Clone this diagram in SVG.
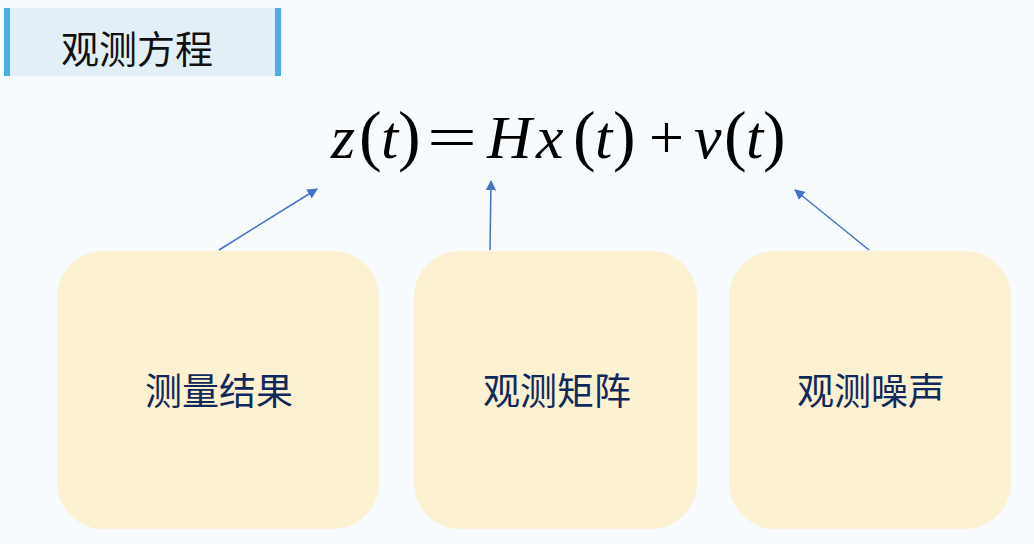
<svg xmlns="http://www.w3.org/2000/svg" width="1034" height="544" viewBox="0 0 1034 544">
<defs>
<style>
.box{fill:#fcf1d1;}
.lbl{font-family:"Noto Sans CJK SC","Noto Sans",sans-serif;font-size:37px;fill:#10295c;text-anchor:middle;}
.eq{font-family:"Liberation Serif","Times New Roman",serif;font-size:62px;fill:#000;}
.it{font-style:italic;}
.p{font-size:68px;}
.conn{stroke:#4472c4;stroke-width:1.5;fill:none;marker-end:url(#ah);}
</style>
<marker id="ah" viewBox="0 0 10 10" refX="9" refY="5" markerWidth="7" markerHeight="7" orient="auto" markerUnits="strokeWidth">
<path d="M0,0 L10,5 L0,10 z" fill="#4472c4"/>
</marker>
</defs>
<rect width="1034" height="544" fill="#f7fbfe"/>
<g id="title">
<rect x="4" y="8" width="277" height="68" fill="#e3eff6"/>
<rect x="4" y="8" width="6" height="68" fill="#4aaee8"/>
<rect x="275" y="8" width="6" height="68" fill="#4aaee8"/>
<text x="137" y="63" font-family="Noto Sans CJK SC,Noto Sans,sans-serif" font-size="38" fill="#111" text-anchor="middle">观测方程</text>
</g>
<g id="equation">
<text class="eq" y="158"><tspan class="it" x="331">z</tspan><tspan class="p" x="359">(</tspan><tspan class="it" x="381">t</tspan><tspan class="p" x="398">)</tspan><tspan class="it" x="487">H</tspan><tspan class="it" x="536">x</tspan><tspan class="p" x="573">(</tspan><tspan class="it" x="595">t</tspan><tspan class="p" x="613">)</tspan><tspan x="649">+</tspan><tspan class="it" x="694">v</tspan><tspan class="p" x="724">(</tspan><tspan class="it" x="746">t</tspan><tspan class="p" x="763">)</tspan></text>
<text class="eq" x="427" y="158" textLength="50" lengthAdjust="spacingAndGlyphs">=</text>
</g>
<g id="node1">
<rect class="box" x="57" y="251" width="322" height="278" rx="46"/>
<text class="lbl" x="219" y="405">测量结果</text>
</g>
<g id="node2">
<rect class="box" x="414" y="251" width="283" height="278" rx="46"/>
<text class="lbl" x="557" y="405">观测矩阵</text>
</g>
<g id="node3">
<rect class="box" x="729" y="251" width="282" height="278" rx="46"/>
<text class="lbl" x="871" y="405">观测噪声</text>
</g>
<g id="connectors">
<line class="conn" x1="219" y1="250" x2="317" y2="189"/>
<line class="conn" x1="490" y1="250" x2="491" y2="181"/>
<line class="conn" x1="869" y1="250" x2="795" y2="190"/>
</g>
</svg>
